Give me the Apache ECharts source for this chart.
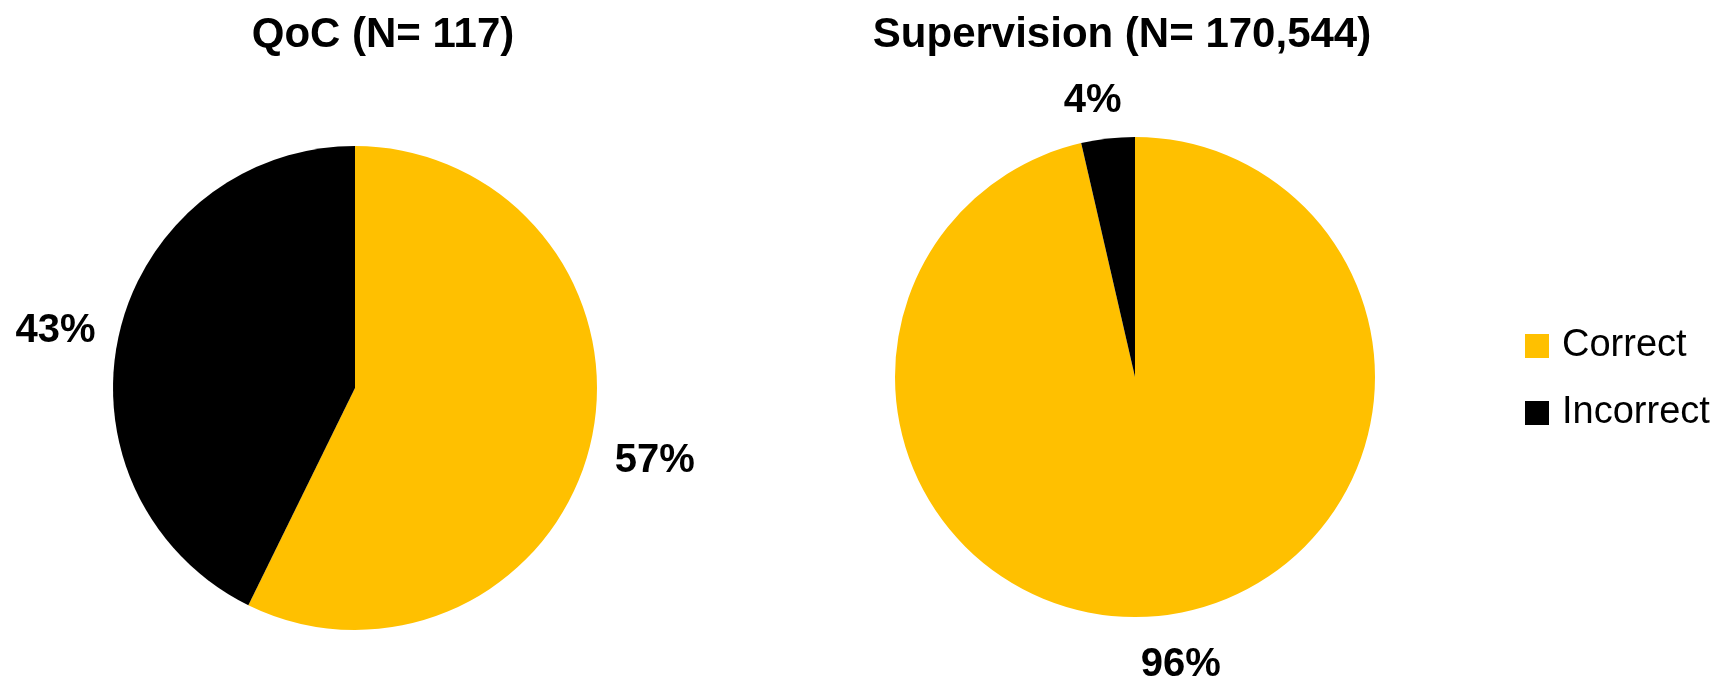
<!DOCTYPE html>
<html>
<head>
<meta charset="utf-8">
<script src="https://cdn.jsdelivr.net/npm/echarts@6/dist/echarts.min.js"></script>
<style>
  html, body { margin: 0; padding: 0; background: #ffffff; }
  #chart { width: 1735px; height: 678px; }
</style>
</head>
<body>
<div id="chart"></div>
<script>
// ---- data ----
const categories = ['Correct', 'Incorrect'];
const chartTitles = ['QoC (N= 117)', 'Supervision (N= 170,544)'];
const qocValues = [67, 50];               // 57% / 43%
const supervisionValues = [96.4, 3.6];    // 96% / 4%

// ---- styles ----
const colors = ['#FFC000', '#000000'];
const FONT = '"Liberation Sans", Arial, sans-serif';
// label line (hidden) lengths used to place outside labels, per slice
const qocLabelLines = [{ length: 79, length2: -18 }, { length: 8, length2: 51 }];
const supLabelLines = [{ length: 50, length2: 8 }, { length: 38, length2: 6 }];

function buildData(values, lines) {
  return categories.map(function (name, i) {
    return {
      name: name,
      value: values[i],
      labelLine: { show: false, length: lines[i].length, length2: lines[i].length2 }
    };
  });
}

const labelStyle = {
  show: true,
  position: 'outside',
  formatter: function (p) { return Math.round(p.percent) + '%'; },
  fontFamily: FONT,
  fontWeight: 'bold',
  fontSize: 40,
  color: '#000000'
};

const titleStyle = { fontFamily: FONT, fontWeight: 'bold', fontSize: 42, color: '#000000' };

const chart = echarts.init(document.getElementById('chart'), null, { renderer: 'canvas' });
chart.setOption({
  animation: false,
  backgroundColor: '#ffffff',
  color: colors,
  title: [
    { text: chartTitles[0], left: 378, top: 9, textAlign: 'center', textStyle: titleStyle },
    { text: chartTitles[1], left: 1117, top: 9, textAlign: 'center', textStyle: titleStyle }
  ],
  legend: {
    orient: 'vertical',
    left: 1525,
    top: 326,
    padding: 0,
    itemWidth: 24,
    itemHeight: 24,
    itemGap: 27,
    icon: 'rect',
    selectedMode: false,
    data: categories,
    textStyle: {
      fontFamily: FONT,
      fontSize: 38,
      color: '#000000',
      lineHeight: 40,
      padding: [0, 0, 0, 8]
    }
  },
  series: [
    {
      type: 'pie',
      center: [355, 388],
      radius: 242,
      startAngle: 90,
      clockwise: true,
      avoidLabelOverlap: false,
      emphasis: { disabled: true },
      label: labelStyle,
      labelLayout: function () { return { align: 'center', verticalAlign: 'middle' }; },
      itemStyle: { borderWidth: 0 },
      data: buildData(qocValues, qocLabelLines)
    },
    {
      type: 'pie',
      center: [1135, 377],
      radius: 240,
      startAngle: 90,
      clockwise: true,
      avoidLabelOverlap: false,
      emphasis: { disabled: true },
      label: labelStyle,
      labelLayout: function () { return { align: 'center', verticalAlign: 'middle' }; },
      itemStyle: { borderWidth: 0 },
      data: buildData(supervisionValues, supLabelLines)
    }
  ]
});
</script>
</body>
</html>
